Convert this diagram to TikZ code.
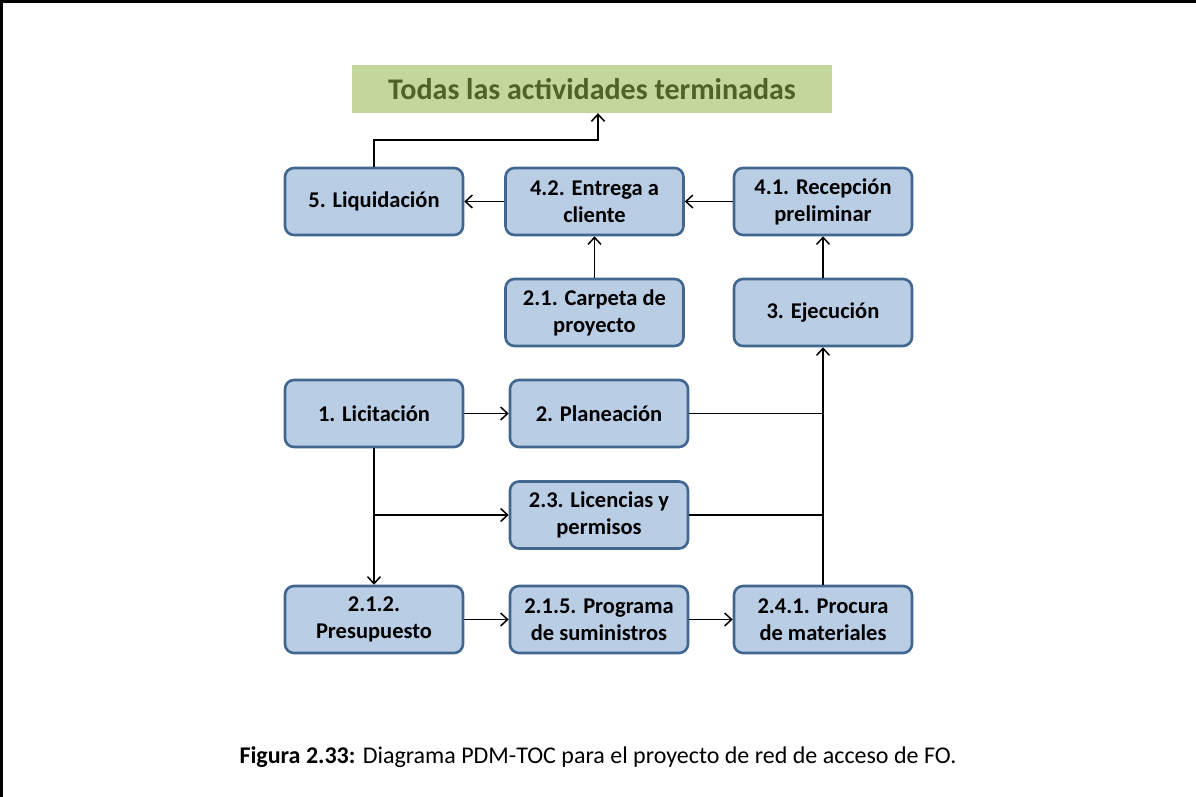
\documentclass[tikz,border=0pt]{standalone}
\usepackage{fontspec}
\setmainfont{Carlito}
\usepackage{tikz}
\usetikzlibrary{arrows.meta,positioning,calc}

\definecolor{boxfill}{HTML}{B9CDE5}
\definecolor{boxline}{HTML}{41668F}
\definecolor{endfill}{HTML}{C3D69B}
\definecolor{endtext}{HTML}{4F6228}

\begin{document}
\begin{tikzpicture}[x=1pt, y=1pt,
    box/.style={draw=boxline, fill=boxfill, line width=2.6pt, rounded corners=9pt,
                minimum width=178pt, minimum height=67pt, align=center, inner sep=2pt,
                font=\fontsize{22.5}{27}\selectfont\bfseries},
    endbox/.style={fill=endfill, minimum width=480pt, minimum height=48pt,
                   text=endtext, font=\fontsize{30}{32}\selectfont\bfseries},
    arr/.style={-{Straight Barb[length=7pt, width=13pt, line width=1.5pt]}, line width=1.8pt},
    lin/.style={line width=1.8pt},
]
\useasboundingbox (0,0) rectangle (1196,-797);
% frame
\draw[line width=3pt] (1.5,-797) -- (1.5,-1.5) -- (1196,-1.5);

% goal
\node[endbox] (fin) at (592,-89) {Todas las actividades terminadas};

% top row
\node[box] (liq)   at (374,-201.5) {5. Liquidación};
\node[box] (entr)  at (594.5,-201.5) {4.2. Entrega a\\cliente};
\node[box] (recep) at (823,-201.5) {4.1. Recepción\\preliminar};

% second row
\node[box] (carp) at (594.5,-312.5) {2.1. Carpeta de\\proyecto};
\node[box] (ejec) at (823,-312.5) {3. Ejecución};

% middle rows
\node[box] (lic)   at (374,-413.5) {1. Licitación};
\node[box] (plan)  at (599,-413.5) {2. Planeación};
\node[box] (lic23) at (599,-515) {2.3. Licencias y\\permisos};

% bottom row
\node[box] (pres) at (374,-619.5) {2.1.2.\\Presupuesto};
\node[box] (prog) at (599,-619.5) {2.1.5. Programa\\de suministros};
\node[box] (proc) at (823,-619.5) {2.4.1. Procura\\de materiales};

% caption
\node[font=\fontsize{24}{28}\selectfont] (cap) at (598,-757)
    {\textbf{Figura 2.33:} Diagrama PDM-TOC para el proyecto de red de acceso de FO.};

% connectors
\coordinate (finin) at ($(fin.south)+(6,0)$);
\draw[arr] (liq.north) -- ++(0,27) -| (finin);
\draw[arr] (entr) -- (liq);
\draw[arr] (recep) -- (entr);
\draw[arr] (carp) -- (entr);
\draw[arr] (ejec) -- (recep);

\draw[arr] (lic) -- (plan);
\draw[arr] (lic) -- (pres);
\coordinate (br) at (lic.south |- lic23.west);
\draw[arr] (br) -- (lic23.west);
\draw[arr] (pres) -- (prog);
\draw[arr] (prog) -- (proc);

\draw[arr] (proc) -- (ejec);
\draw[lin] (plan.east) -- (plan.east -| ejec.south);
\draw[lin] (lic23.east) -- (lic23.east -| ejec.south);
\end{tikzpicture}
\end{document}
